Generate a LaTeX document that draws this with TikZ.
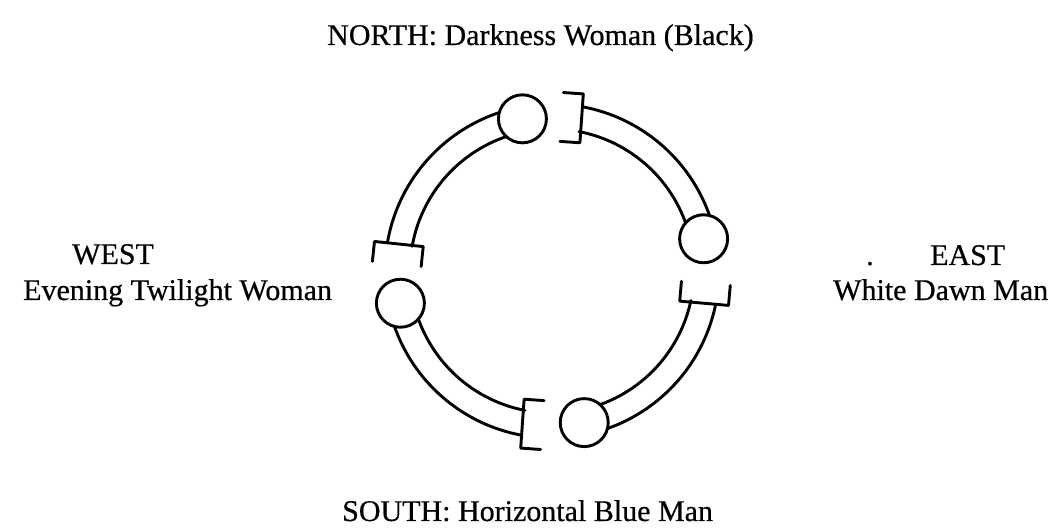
\documentclass[tikz,border=0pt]{standalone}
\usepackage{fontspec}
\setmainfont{Liberation Serif}[FakeBold=0.5]
\begin{document}
\begin{tikzpicture}[x=1pt,y=1pt,
  ringline/.style={line width=2.9pt, line cap=round, line join=round},
  ball/.style={circle, draw, line width=2.9pt, fill=white, minimum size=48pt, inner sep=0pt},
  lbl/.style={inner sep=0pt, anchor=base west, font=\fontsize{30}{36}\selectfont}]
\useasboundingbox (0,0) rectangle (1057,529);
\coordinate (C) at (552,258);
% bands: from a ball to the next bracket
\foreach \a/\b in {101/170, 192/259, 282/348, 12/79} {
  \draw[ringline] ([shift={(C)}]\a:167) arc[start angle=\a, end angle=\b, radius=167];
  \draw[ringline] ([shift={(C)}]\a:142) arc[start angle=\a, end angle=\b, radius=142];
}
% brackets
\foreach \b/\p [count=\i] in {79/86, 170/174, 259/266, 348/355} {
  \coordinate (k\i) at ([shift={(C)}]\b:155);
  \draw[ringline] (k\i) ++(\p:25) ++(\p+90:20) -- ++(\p+270:20) -- ++(\p+180:49) -- ++(\p+90:20);
}
% balls
\node[ball] (bN) at ([shift={(C)}]101:155) {};
\node[ball] (bW) at ([shift={(C)}]192:155) {};
\node[ball] (bS) at ([shift={(C)}]282:155) {};
\node[ball] (bE) at ([shift={(C)}]12:155) {};
% labels
\node[lbl] (north) at (327,484) {NORTH: Darkness Woman (Black)};
\node[lbl] (west1) at (72,265) {WEST};
\node[lbl] (west2) at (23,229) {Evening Twilight Woman};
\node[lbl] (edot) at (866,264) {.};
\node[lbl] (east1) at (930,264) {EAST};
\node[lbl] (east2) at (833,229) {White Dawn Man};
\node[lbl] (south) at (342,8) {SOUTH: Horizontal Blue Man};
\end{tikzpicture}
\end{document}
